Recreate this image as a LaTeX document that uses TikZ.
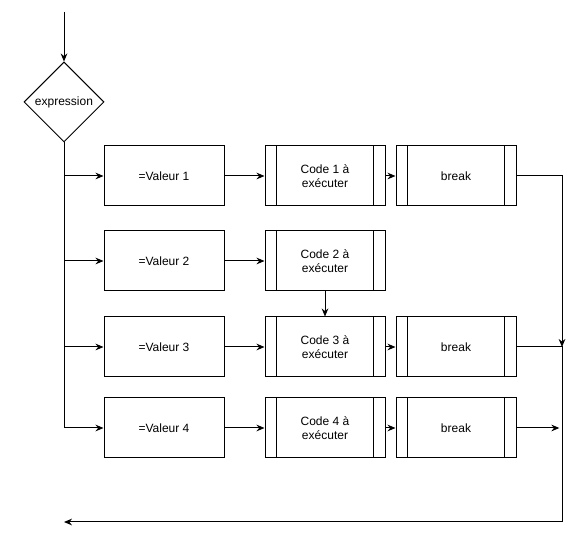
\documentclass[tikz,border=0pt]{standalone}
\usepackage{fontspec}
\setmainfont{Liberation Sans}
\usetikzlibrary{shapes.geometric,arrows.meta}

\begin{document}
\begin{tikzpicture}[
  x=0.75pt, y=-0.75pt,
  line width=0.75pt,
  every node/.style={font=\fontsize{9}{10.5}\selectfont, align=center},
  valbox/.style={draw, rectangle, minimum width=90pt, minimum height=45pt, inner sep=0pt},
  procbox/.style={valbox},
  cond/.style={draw, diamond, minimum width=60pt, minimum height=60pt, inner sep=0pt},
  flow/.style={-{Stealth[length=6pt,width=5pt]}}
]
\useasboundingbox (0,0) rectangle (582,555);

\coordinate (start) at (64,12);
\node[cond] (expr) at (64,102) {expression};

% rows
\node[valbox] (v1) at (164,176) {=Valeur 1};
\node[procbox] (c1) at (325,176) {Code 1 à\\exécuter};
\node[procbox] (b1) at (456,176) {break};

\node[valbox] (v2) at (164,261) {=Valeur 2};
\node[procbox] (c2) at (325,261) {Code 2 à\\exécuter};

\node[valbox] (v3) at (164,347) {=Valeur 3};
\node[procbox] (c3) at (325,347) {Code 3 à\\exécuter};
\node[procbox] (b3) at (456,347) {break};

\node[valbox] (v4) at (164,428) {=Valeur 4};
\node[procbox] (c4) at (325,428) {Code 4 à\\exécuter};
\node[procbox] (b4) at (456,428) {break};

% side bars of the process boxes
\foreach \n in {c1,c2,c3,c4,b1,b3,b4} {
  \draw ([xshift=9pt]\n.north west) -- ([xshift=9pt]\n.south west);
  \draw ([xshift=-9pt]\n.north east) -- ([xshift=-9pt]\n.south east);
}

\coordinate (j1) at (562,176);
\coordinate (j3) at (562,347);
\coordinate (j4) at (562,428);
\coordinate (end) at (64,522);

\draw[flow] (start) -- (expr.north);
\draw (expr.south) -- (expr.south |- v4.west);
\foreach \i in {1,...,4}
  \draw[flow] (expr.south |- v\i.west) -- (v\i.west);

\draw[flow] (v1) -- (c1);
\draw[flow] (c1) -- (b1);
\draw[flow] (v2) -- (c2);
\draw[flow] (c2) -- (c3);
\draw[flow] (v3) -- (c3);
\draw[flow] (c3) -- (b3);
\draw[flow] (v4) -- (c4);
\draw[flow] (c4) -- (b4);

% exits
\draw[flow] (b1.east) -- (j1) -- (j3);
\draw[flow] (b3.east) -- (j3) |- (end);
\draw[flow, shorten >=2pt] (b4.east) -- (j4);
\end{tikzpicture}
\end{document}
